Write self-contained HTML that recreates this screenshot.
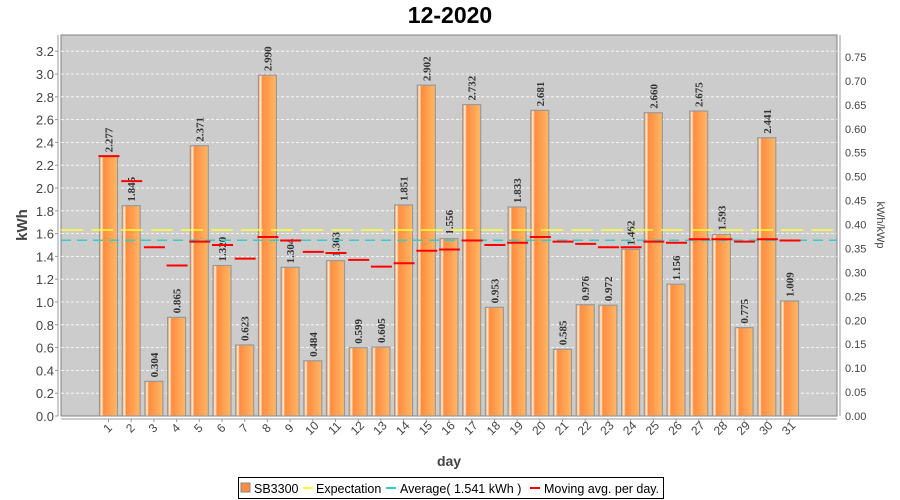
<!DOCTYPE html>
<html><head><meta charset="utf-8"><style>body{margin:0;background:#fff}svg{display:block}</style></head>
<body>
<svg id="s" width="900" height="500" xmlns="http://www.w3.org/2000/svg" font-family="Liberation Sans, sans-serif">
<defs>
<linearGradient id="g" x1="0" x2="1" y1="0" y2="0">
<stop offset="0" stop-color="#ff8a3c"/><stop offset="0.12" stop-color="#fff4e0"/><stop offset="0.22" stop-color="#ff8c40"/><stop offset="1" stop-color="#ffb865"/>
</linearGradient>
</defs>
<text x="450" y="23" text-anchor="middle" font-size="23" font-weight="bold">12-2020</text>
<rect x="61" y="35" width="776" height="381" fill="#cccccc" stroke="#808080"/>
<g id="grid"></g>
<g id="bars"></g>
<line x1="61" y1="230" x2="837" y2="230" stroke="#ffff33" stroke-width="1.5" stroke-dasharray="22,8"/>
<line x1="61" y1="240.3" x2="837" y2="240.3" stroke="#33cccc" stroke-width="1.5" stroke-dasharray="10,6"/>
<g id="ma"></g>
<line x1="61" y1="419" x2="837" y2="419" stroke="#999"/>
<line x1="58" y1="35" x2="58" y2="416" stroke="#999"/>
<line x1="840" y1="35" x2="840" y2="416" stroke="#999"/>
<g id="ax" font-size="13" fill="#444"></g>
<text transform="translate(27,225) rotate(-90)" text-anchor="middle" font-size="15" font-weight="bold" fill="#444">kWh</text>
<text transform="translate(877,225) rotate(90)" text-anchor="middle" font-size="11" fill="#444">kWh/kWp</text>
<text x="449" y="466" text-anchor="middle" font-size="14" font-weight="bold" fill="#444">day</text>
<rect x="238.5" y="477.5" width="425" height="21" fill="#fff" stroke="#000"/>
<rect x="241" y="483" width="9" height="9" fill="#ff8c40" stroke="#888"/>
<text x="254" y="493" font-size="12.5">SB3300</text>
<line x1="303" y1="488" x2="313" y2="488" stroke="#ffff33" stroke-width="2"/>
<text x="316" y="493" font-size="12.5">Expectation</text>
<line x1="386" y1="488" x2="396" y2="488" stroke="#33cccc" stroke-width="2"/>
<text x="400" y="493" font-size="12.5">Average( 1.541 kWh )</text>
<line x1="530" y1="488" x2="540" y2="488" stroke="#ff0000" stroke-width="2"/>
<text x="544" y="493" font-size="12.5">Moving avg. per day.</text>
</svg>
<script>
const v=[2.277,1.845,0.304,0.865,2.371,1.320,0.623,2.990,1.304,0.484,1.363,0.599,0.605,1.851,2.902,1.556,2.732,0.953,1.833,2.681,0.585,0.976,0.972,1.462,2.660,1.156,2.675,1.593,0.775,2.441,1.009];
const m=[2.28,2.06,1.48,1.32,1.53,1.5,1.38,1.57,1.54,1.44,1.43,1.37,1.31,1.34,1.45,1.46,1.54,1.5,1.52,1.57,1.53,1.51,1.48,1.48,1.53,1.52,1.55,1.55,1.53,1.55,1.54];
const Y=x=>416-x*114;let h='',b='',a='',q='';
for(let i=1;i<=16;i++){const y=Y(i*0.2);h+=`<line x1="61" x2="837" y1="${y}" y2="${y}" stroke="#fff" stroke-dasharray="3,2" stroke-width="0.8"/>`;}
for(let i=0;i<=16;i++){const y=Y(i*0.2);a+=`<text x="54" y="${y+5}" text-anchor="end">${(i*0.2).toFixed(1)}</text><line x1="55" x2="58" y1="${y}" y2="${y}" stroke="#999"/>`;}
for(let i=0;i<=15;i++){const y=416-i*0.05*478.7;a+=`<text x="845" y="${y+4}" font-size="11">${(i*0.05).toFixed(2)}</text>`;}
v.forEach((x,i)=>{const c=108.5+i*22.7,y=Y(x);
b+=`<rect x="${c-9}" y="${y}" width="18" height="${416-y}" fill="url(#g)" stroke="#999" stroke-width="1.2"/>`;
b+=`<text transform="translate(${c+4},${y-4}) rotate(-90)" font-family="Liberation Serif,serif" font-weight="bold" font-size="11" fill="#333">${x.toFixed(3)}</text>`;
q+=`<line x1="${c-10}" x2="${c+11}" y1="${Y(m[i])}" y2="${Y(m[i])}" stroke="#ff0000" stroke-width="2"/>`;
a+=`<line x1="${c}" x2="${c}" y1="419" y2="422" stroke="#999"/><text transform="translate(${c+2},${431}) rotate(-45)" text-anchor="middle" font-size="12">${i+1}</text>`;});
document.getElementById('grid').innerHTML=h;document.getElementById('bars').innerHTML=b;document.getElementById('ma').innerHTML=q;document.getElementById('ax').innerHTML=a;
</script>
</body></html>
